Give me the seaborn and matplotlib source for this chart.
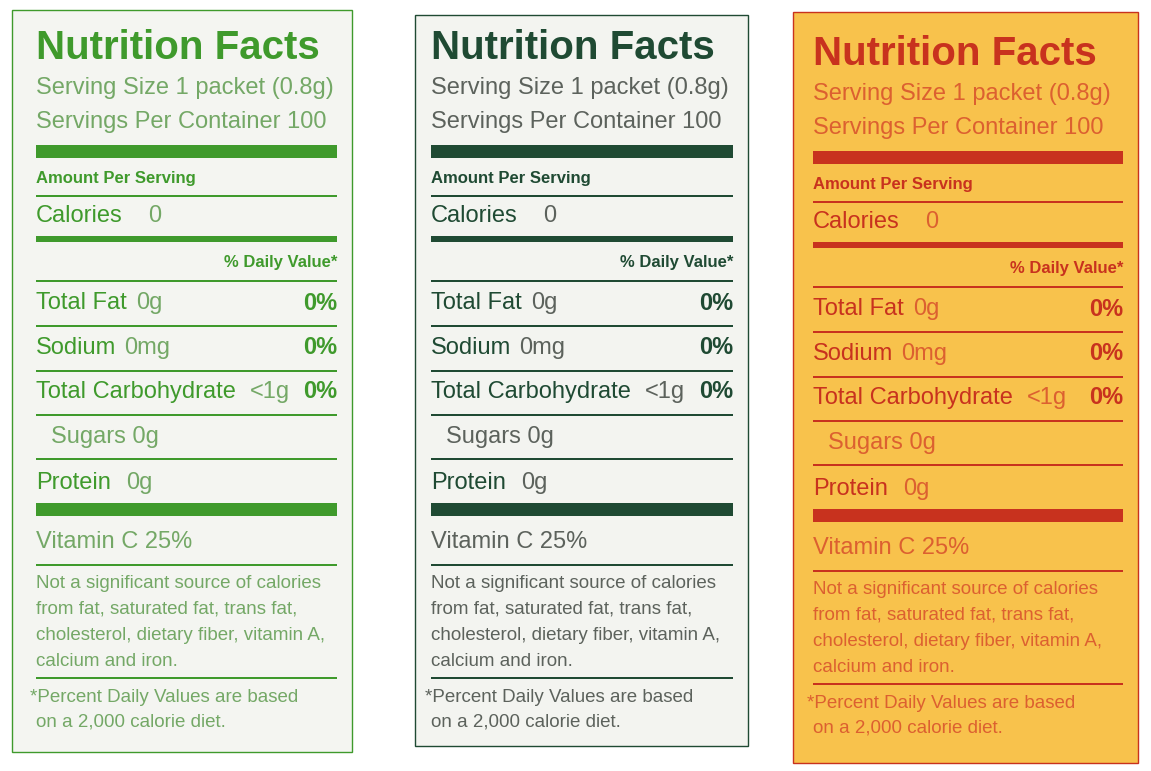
import matplotlib
matplotlib.use("Agg")
import matplotlib.pyplot as plt
import seaborn as sns
from matplotlib.patches import Rectangle

# label contents
title = "Nutrition Facts"
serving_lines = ["Serving Size 1 packet (0.8g)", "Servings Per Container 100"]
nutrients = ["Total Fat", "Sodium", "Total Carbohydrate"]
amounts = ["0g", "0mg", "<1g"]
daily_pct = ["0%", "0%", "0%"]
footnote = ["Not a significant source of calories",
            "from fat, saturated fat, trans fat,",
            "cholesterol, dietary fiber, vitamin A,",
            "calcium and iron."]
pdv_note = ["*Percent Daily Values are based", "on a 2,000 calorie diet."]

# panel boxes: left, right, top, bottom, inset, y shift, bg, main colour, light colour
panels = [
    (12, 352, 10, 752, 24, 0, "#f4f5f1", "#3f9a2c", "#74a866"),
    (415, 748, 15, 746, 16, 0, "#f3f4f0", "#1f4a33", "#5c625c"),
    (793, 1138, 12, 763, 20, 6, "#f8c24c", "#c8321e", "#dc6030"),
]

sns.set_theme(style="white")
plt.rcParams["font.family"] = ["Liberation Sans Narrow", "Liberation Sans", "DejaVu Sans"]

fig = plt.figure(figsize=(11.51, 7.71), dpi=100)
ax = fig.add_axes([0, 0, 1, 1])
ax.set_xlim(0, 1151)
ax.set_ylim(771, 0)
ax.axis("off")
fig.patch.set_facecolor("white")


def panel(l, r, t, b, inset, dy, bg, main, light):
    ax.add_patch(Rectangle((l, t), r - l, b - t, facecolor=bg, edgecolor=main, lw=1))
    x0, x1 = l + inset, r - 15

    def hline(y, h):
        ax.add_patch(Rectangle((x0, y + dy), x1 - x0, h, facecolor=main, lw=0))

    def txt(x, y, s, size, color, weight="normal", ha="left"):
        ax.text(x, y + dy, s, fontsize=size, color=color, weight=weight,
                ha=ha, va="center")

    txt(x0, 48, title, 29, main, "bold")
    txt(x0, 88, serving_lines[0], 17, light)
    txt(x0, 122, serving_lines[1], 17, light)
    hline(145, 13)
    txt(x0, 178, "Amount Per Serving", 12, main, "bold")
    hline(195, 1.5)
    txt(x0, 216, "Calories", 17, main)
    txt(x0 + 112, 216, "0", 17, light)
    hline(236, 6)
    txt(x1, 263, "% Daily Value*", 12, main, "bold", "right")
    hline(280, 1.5)
    ys = [303, 348, 392]
    offs = [100, 88, 214]
    for name, amt, pct, y, o in zip(nutrients, amounts, daily_pct, ys, offs):
        txt(x0, y, name, 17, main)
        txt(x0 + o, y, amt, 17, light)
        txt(x1, y, pct, 17, main, "bold", "right")
        hline(y + 22, 1.5)
    txt(x0 + 15, 437, "Sugars 0g", 17, light)
    hline(458, 1.5)
    txt(x0, 483, "Protein", 17, main)
    txt(x0 + 90, 483, "0g", 17, light)
    hline(503, 13)
    txt(x0, 542, "Vitamin C 25%", 17, light)
    hline(564, 1.5)
    for i, s in enumerate(footnote):
        txt(x0, 583 + i * 26, s, 13.5, light)
    hline(677, 1.5)
    txt(x0 - 6, 697, pdv_note[0], 13.5, light)
    txt(x0, 722, pdv_note[1], 13.5, light)


for p in panels:
    panel(*p)

fig.savefig("out.png", dpi=100, facecolor="white")
